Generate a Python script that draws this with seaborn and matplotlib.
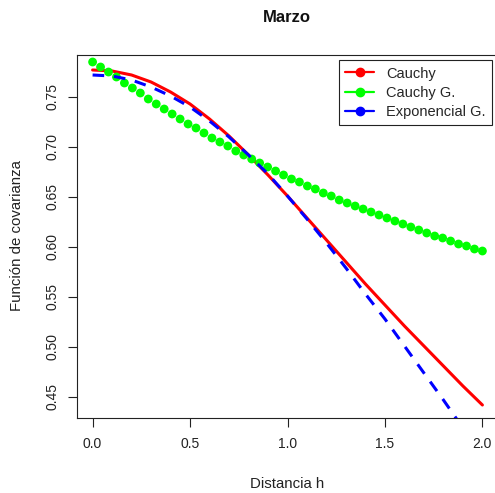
import matplotlib
matplotlib.use('Agg')
import numpy as np
import matplotlib.pyplot as plt
import seaborn as sns
from matplotlib.lines import Line2D

# ---- data ----
h_line = np.round(np.arange(0, 2.0001, 0.1), 2)
cauchy = [0.777, 0.776, 0.772, 0.765, 0.755, 0.743, 0.728, 0.711, 0.692, 0.672,
          0.651, 0.629, 0.607, 0.585, 0.563, 0.542, 0.521, 0.501, 0.481, 0.461, 0.442]
expo_g = [0.772, 0.771, 0.767, 0.760, 0.751, 0.740, 0.726, 0.710, 0.692, 0.673,
          0.651, 0.628, 0.604, 0.579, 0.553, 0.528, 0.501, 0.474, 0.447, 0.419, 0.390]
h_pts = np.linspace(0, 2, 50)
cauchy_g = [0.785, 0.780, 0.775, 0.770, 0.764, 0.759, 0.754, 0.748, 0.743, 0.738,
            0.733, 0.728, 0.723, 0.719, 0.714, 0.709, 0.705, 0.701, 0.696, 0.692,
            0.688, 0.684, 0.680, 0.676, 0.672, 0.668, 0.665, 0.661, 0.658, 0.654,
            0.651, 0.647, 0.644, 0.641, 0.638, 0.635, 0.632, 0.629, 0.626, 0.623,
            0.620, 0.617, 0.614, 0.611, 0.609, 0.606, 0.603, 0.601, 0.598, 0.596]
series_names = ["Cauchy", "Cauchy G.", "Exponencial G."]
series_colors = ["#FF0000", "#00FF00", "#0000FF"]
x_ticks = [0.0, 0.5, 1.0, 1.5, 2.0]
x_ticklabels = ["0.0", "0.5", "1.0", "1.5", "2.0"]
y_ticks = [0.45, 0.50, 0.55, 0.60, 0.65, 0.70, 0.75]
y_ticklabels = ["0.45", "0.50", "0.55", "0.60", "0.65", "0.70", "0.75"]
title = "Marzo"
xlabel = "Distancia h"
ylabel = "Función de covarianza"

sns.set_style("white")
plt.rcParams['font.family'] = ['Liberation Sans', 'DejaVu Sans']

W, H = 495, 493
fig = plt.figure(figsize=(W / 100, H / 100), dpi=100)
fig.patch.set_facecolor('white')
ax = fig.add_axes([77 / W, 1 - 418 / H, 421 / W, 363 / H])

sns.lineplot(x=h_line, y=cauchy, color=series_colors[0], lw=2.2, ax=ax)
sns.scatterplot(x=h_pts, y=cauchy_g, color=series_colors[1], s=40,
                edgecolor='none', linewidth=0, ax=ax, zorder=3)
sns.lineplot(x=h_line, y=expo_g, color=series_colors[2], lw=2.2,
             linestyle=(0, (3.8, 3.2)), ax=ax, zorder=4)

ax.set_xlim(-0.08, 2.08)
ax.set_ylim(0.429, 0.792)
ax.set_xticks(x_ticks)
ax.set_xticklabels(x_ticklabels, fontsize=10)
ax.set_yticks(y_ticks)
ax.set_yticklabels(y_ticklabels, fontsize=10, rotation=90, va='center')
ax.tick_params(axis='both', direction='out', length=6.5, width=0.8,
               color='#222222', labelcolor='#222222', bottom=True, left=True)
ax.tick_params(axis='x', pad=7)
ax.tick_params(axis='y', pad=6)
for sp in ax.spines.values():
    sp.set_visible(True)
    sp.set_color('#222222')
    sp.set_linewidth(0.8)

ax.set_xlabel("")
ax.set_ylabel("")
fig.text(287 / W, 1 - 484 / H, xlabel, ha='center', va='center',
         fontsize=10.8, color='#222222')
fig.text(17 / W, 1 - 236 / H, ylabel, ha='center', va='center',
         rotation=90, fontsize=10.8, color='#222222')
fig.text(287 / W, 1 - 18 / H, title, ha='center', va='center',
         fontsize=12, fontweight='bold', color='#111111')

handles = [Line2D([], [], color=c, lw=1.6, marker='o', markersize=6)
           for c in series_colors]
leg = ax.legend(handles, series_names, loc='upper right',
                bbox_to_anchor=(492 / W, 1 - 60 / H),
                bbox_transform=fig.transFigure, borderaxespad=0,
                frameon=True, fancybox=False, framealpha=1,
                edgecolor='#222222', fontsize=10.5, handlelength=2.0,
                handletextpad=0.8, labelspacing=0.35, borderpad=0.45)
leg.get_frame().set_linewidth(0.8)

fig.savefig("out.png", dpi=100)
